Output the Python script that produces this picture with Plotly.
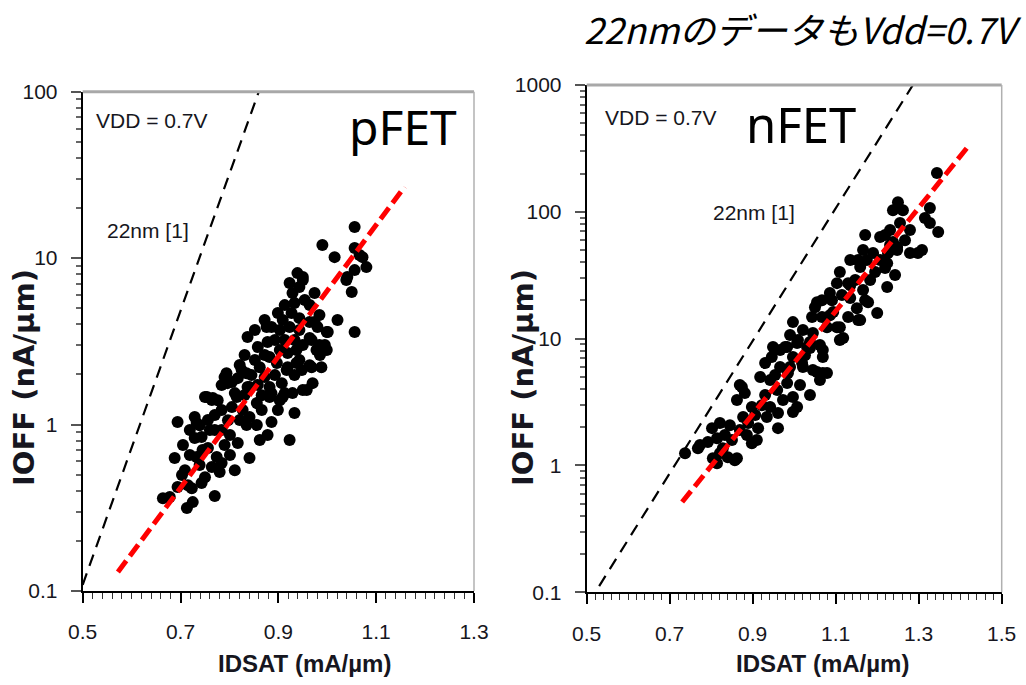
import plotly.graph_objects as go

# ---------------- data ----------------
# pFET: IDSAT (mA/um) vs IOFF (nA/um)
p_idsat = [0.664, 0.678, 0.713, 0.725, 0.770, 0.694, 0.723, 0.703, 0.743, 0.750,
           0.709, 0.688, 0.733, 0.764, 0.780, 0.811, 0.841, 0.705, 0.729, 0.743,
           0.756, 0.774, 0.784, 0.817, 0.694, 0.729, 0.733, 0.756, 0.760, 0.784,
           0.801, 0.784, 0.750, 0.764, 0.805, 0.815, 0.827, 0.841, 0.835, 0.856,
           0.862, 0.878, 0.886, 0.856, 0.866, 0.882, 0.899, 0.933, 0.923, 0.790,
           0.794, 0.784, 0.817, 0.811, 0.841, 0.835, 0.862, 0.872, 0.882, 0.907,
           0.913, 0.929, 0.917, 0.937, 0.958, 0.970, 0.968, 0.988, 0.948, 0.754,
           0.766, 0.796, 0.825, 0.845, 0.837, 0.886, 0.909, 0.950, 0.964, 0.943,
           0.919, 0.897, 0.882, 0.837, 0.858, 0.878, 0.903, 0.919, 0.937, 0.950,
           0.968, 0.978, 0.999, 1.001, 0.980, 0.964, 0.943, 0.923, 0.927, 0.899,
           0.886, 0.933, 0.929, 0.923, 0.939, 0.950, 0.974, 0.964, 1.021, 1.056,
           1.015, 1.050, 1.039, 1.056, 1.080, 1.072, 1.056, 0.990, 1.056, 1.066,
           0.974, 0.999, 0.995, 0.964, 0.876, 1.041, 0.950, 0.943, 0.913, 0.903,
           0.872, 0.852, 0.831, 0.821, 0.770, 0.790, 0.739, 0.719, 0.801, 0.893,
           0.933, 0.985, 0.852, 0.872, 0.909, 0.943, 0.984, 0.913, 0.954, 0.893,
           0.933, 0.984, 0.831, 0.821, 0.805, 0.858, 0.903, 0.866, 0.776, 0.797,
           0.770, 0.739, 0.719, 0.745, 0.715]
p_ioff = [0.361, 0.367, 0.315, 0.342, 0.372, 0.421, 0.415, 0.497, 0.445, 0.483,
          0.532, 0.629, 0.638, 0.556, 0.518, 0.532, 0.629, 0.753, 0.830, 0.841,
          0.723, 0.638, 0.587, 0.774, 1.035, 1.109, 1.021, 1.064, 0.927, 0.927,
          0.865, 1.222, 1.462, 1.403, 1.273, 1.462, 1.222, 1.109, 0.993, 0.993,
          0.807, 0.865, 1.035, 1.346, 1.222, 1.462, 1.222, 1.172, 0.807, 1.928,
          2.037, 1.726, 1.901, 1.545, 1.679, 2.037, 2.213, 1.928, 1.679, 1.774,
          1.545, 1.545, 2.124, 2.344, 1.611, 1.774, 2.213, 2.213, 2.124, 1.462,
          1.442, 1.774, 2.124, 1.982, 1.679, 1.545, 1.462, 1.611, 2.275, 2.443,
          2.213, 2.344, 2.547, 3.357, 2.924, 3.133, 2.805, 2.692, 2.805, 3.006,
          3.221, 2.805, 2.805, 3.597, 3.855, 4.130, 3.698, 3.855, 4.677, 4.677,
          3.855, 5.370, 6.166, 7.079, 8.128, 7.379, 6.166, 5.224, 4.246, 3.597,
          10.14, 6.252, 7.379, 8.472, 8.831, 10.14, 15.38, 11.99, 11.51, 10.45,
          4.130, 3.597, 3.006, 3.311, 3.855, 7.691, 7.691, 6.699, 3.221, 3.698,
          2.618, 2.443, 1.503, 1.064, 1.140, 0.753, 0.571, 0.656, 0.656, 1.982,
          1.982, 2.618, 3.70, 4.25, 4.25, 4.36, 4.55, 5.22, 5.60, 3.22,
          3.22, 3.01, 2.62, 2.28, 1.80, 1.73, 1.40, 1.50, 1.40, 1.06,
          0.927, 0.99, 0.927, 0.703, 0.432]

# nFET: IDSAT (mA/um) vs IOFF (nA/um)
n_idsat = [0.737, 0.768, 0.802, 0.821, 0.792, 0.814, 0.828, 0.840, 0.821, 0.862,
           0.804, 0.850, 0.814, 0.857, 0.862, 0.874, 0.881, 0.898, 0.877, 0.889,
           0.913, 0.886, 0.910, 0.898, 0.869, 0.918, 0.930, 0.946, 0.966, 0.978,
           1.007, 1.031, 1.069, 0.942, 0.959, 0.983, 0.973, 0.997, 1.007, 0.942,
           0.961, 0.961, 0.934, 0.922, 1.021, 1.045, 1.069, 0.985, 0.869, 0.997,
           1.062, 0.966, 0.997, 0.997, 1.021, 1.009, 1.038, 1.062, 1.043, 1.050,
           1.067, 1.086, 1.094, 1.110, 1.118, 1.079, 1.055, 1.079, 1.069, 1.130,
           1.159, 1.151, 1.178, 1.200, 1.135, 1.115, 1.110, 1.130, 1.147, 1.159,
           1.175, 1.190, 1.166, 1.195, 1.224, 1.243, 1.226, 1.248, 1.279, 1.298,
           1.103, 1.091, 1.344, 1.250, 1.238, 1.262, 1.327, 1.315, 1.327, 1.347,
           1.255, 1.279, 1.231, 1.219, 1.171, 1.238, 1.248, 1.308, 1.166, 1.154,
           1.224, 1.207, 1.219, 1.135, 1.171, 1.154, 1.055, 1.067, 1.103, 1.110,
           0.983, 1.045, 1.038, 1.019, 0.949, 0.990, 0.954, 1.014, 1.038, 1.026,
           0.990, 1.086, 1.135, 1.183, 1.207, 1.231, 1.267, 0.906, 0.930, 0.845,
           0.833, 0.773]
n_ioff = [1.25, 1.37, 1.97, 2.16, 1.53, 1.64, 1.37, 1.16, 1.25, 1.14,
          1.14, 1.59, 1.04, 1.10, 3.28, 4.15, 3.72, 2.89, 2.41, 2.16,
          1.97, 1.74, 1.59, 1.50, 1.90, 4.98, 6.42, 7.16, 8.13, 8.58,
          9.23, 8.58, 8.13, 4.71, 3.93, 4.46, 3.28, 3.46, 2.89, 2.89,
          2.59, 1.97, 2.41, 2.99, 5.97, 5.65, 5.35, 5.35, 4.31, 2.64,
          4.71, 5.97, 7.16, 13.5, 11.7, 9.75, 9.40, 8.90, 14.8, 17.7,
          20.1, 22.9, 16.2, 12.3, 10.1, 12.3, 5.45, 5.35, 7.16, 14.8,
          14.0, 17.4, 19.4, 15.9, 20.9, 22.1, 33.5, 27.4, 29.0, 36.7,
          41.7, 47.3, 24.2, 33.5, 25.5, 31.7, 47.3, 52.7, 47.3, 47.3,
          27.4, 20.1, 202, 119, 103, 103, 107, 89.3, 81.5, 69.2,
          81.5, 71.8, 71.8, 65.6, 65.6, 57.8, 50.0, 50.0, 50.0, 41.7,
          39.4, 63.2, 36.0, 41.7, 20.1, 14.0, 19.4, 14.8, 12.3, 9.75,
          8.58, 11.1, 8.43, 6.42, 8.58, 5.97, 5.16, 4.31, 3.59, 7.41,
          10.7, 15.3, 26.4, 29.0, 41.7, 54.7, 59.8, 2.50, 3.59, 2.08,
          1.74, 1.45]

# reference (22nm [1]) and fitted trend lines: endpoints in data units
p_ref_x = [0.50, 0.86]
p_ref_y = [0.109, 100]
p_fit_x = [0.572, 1.158]
p_fit_y = [0.13, 26.8]
n_ref_x = [0.53, 1.286]
n_ref_y = [0.112, 1000]
n_fit_x = [0.73, 1.424]
n_fit_y = [0.515, 343]

p_xticks = [0.5, 0.7, 0.9, 1.1, 1.3]
n_xticks = [0.5, 0.7, 0.9, 1.1, 1.3, 1.5]
p_yticks = [0.1, 1, 10, 100]
n_yticks = [0.1, 1, 10, 100, 1000]

title_text = "22nmのデータもVdd=0.7V"

# ---------------- figure ----------------
W, H = 1026, 685
SANS = "Liberation Sans, Arial, sans-serif"
INK = "#161620"


def px(x):
    return x / W


def py(y):
    return 1 - y / H


def minor_log(lo, hi):
    vals = []
    e = lo
    while e < hi:
        for k in range(2, 10):
            vals.append(k * 10 ** e)
        e += 1
    return vals


fig = go.Figure()

for xs, ys, ax, ay in [(p_idsat, p_ioff, "x", "y"), (n_idsat, n_ioff, "x2", "y2")]:
    fig.add_trace(go.Scatter(x=xs, y=ys, xaxis=ax, yaxis=ay, mode="markers",
                             marker=dict(size=12, color="black"),
                             showlegend=False, hoverinfo="skip"))

for xs, ys, ax, ay in [(p_ref_x, p_ref_y, "x", "y"), (n_ref_x, n_ref_y, "x2", "y2")]:
    fig.add_trace(go.Scatter(x=xs, y=ys, xaxis=ax, yaxis=ay, mode="lines",
                             line=dict(color="black", width=2.2, dash="12px,8px"),
                             showlegend=False, hoverinfo="skip"))

for xs, ys, ax, ay in [(p_fit_x, p_fit_y, "x", "y"), (n_fit_x, n_fit_y, "x2", "y2")]:
    fig.add_trace(go.Scatter(x=xs, y=ys, xaxis=ax, yaxis=ay, mode="lines",
                             line=dict(color="#ff0000", width=5, dash="14px,6px"),
                             showlegend=False, hoverinfo="skip"))

xax_common = dict(showgrid=False, zeroline=False, showline=True, linecolor="black",
                  linewidth=2, ticks="outside", ticklen=10, tickwidth=1.5,
                  tickcolor="black", ticklabelstandoff=11, automargin=False,
                  tickfont=dict(family=SANS, size=21, color=INK),
                  minor=dict(ticks="outside", ticklen=6, tickwidth=1, tickcolor="#333",
                             dtick=0.02))
yax_common = dict(type="log", showgrid=False, zeroline=False, showline=True,
                  linecolor="black", linewidth=2, ticks="outside", ticklen=10,
                  tickwidth=1.5, tickcolor="#555", ticklabelstandoff=9,
                  automargin=False,
                  tickfont=dict(family=SANS, size=21, color=INK))

fig.update_layout(
    width=W, height=H, autosize=False,
    margin=dict(l=0, r=0, t=0, b=0, pad=0, autoexpand=False),
    paper_bgcolor="white", plot_bgcolor="white",
    xaxis=dict(xax_common, domain=[px(82.7), px(474)], range=[0.5, 1.3],
               tickvals=p_xticks, ticktext=[f"{v:.1f}" for v in p_xticks],
               anchor="y"),
    yaxis=dict(yax_common, domain=[py(591), py(91.7)], range=[-1, 2],
               tickvals=p_yticks, ticktext=[f"{v:g}" for v in p_yticks],
               minor=dict(ticks="outside", ticklen=5, tickcolor="#666",
                          tickvals=minor_log(-1, 2)),
               anchor="x"),
    xaxis2=dict(xax_common, domain=[px(586.7), px(1001.7)], range=[0.5, 1.5],
                tickvals=n_xticks, ticktext=[f"{v:.1f}" for v in n_xticks],
                anchor="y2"),
    yaxis2=dict(yax_common, domain=[py(592.3), py(85)], range=[-1, 3],
                tickvals=n_yticks, ticktext=[f"{v:g}" for v in n_yticks],
                minor=dict(ticks="outside", ticklen=5, tickcolor="#666",
                           tickvals=minor_log(-1, 3)),
                anchor="x2"),
)

# gray top / right frame edges
for xr, yr in [("x domain", "y domain"), ("x2 domain", "y2 domain")]:
    fig.add_shape(type="line", xref=xr, yref=yr, x0=0, x1=1, y0=1, y1=1,
                  line=dict(color="#a8a8a8", width=3))
    fig.add_shape(type="line", xref=xr, yref=yr, x0=1, x1=1, y0=0, y1=1,
                  line=dict(color="#b0b0b0", width=1.5))

BOLD = dict(family=SANS, size=24, color=INK)
LBL = dict(family=SANS, size=21, color=INK)
YT = dict(family="DejaVu Sans", size=29, color=INK)
ann = [
    # axis titles
    dict(text="<b>IDSAT (mA/µm)</b>", x=px(304), y=py(663), font=BOLD),
    dict(text="<b>IDSAT (mA/µm)</b>", x=px(822), y=py(663), font=BOLD),
    dict(text="<b>IOFF (nA/µm)</b>", x=px(24), y=py(378), textangle=-90, font=YT),
    dict(text="<b>IOFF (nA/µm)</b>", x=px(523), y=py(378), textangle=-90, font=YT),
    # in-plot labels
    dict(text="VDD = 0.7V", x=px(151), y=py(121), font=LBL),
    dict(text="22nm [1]", x=px(148), y=py(231), font=LBL),
    dict(text="VDD = 0.7V", x=px(660), y=py(117), font=LBL),
    dict(text="22nm [1]", x=px(754), y=py(213), font=LBL),
    dict(text="pFET", x=px(403), y=py(127), font=dict(family="Noto Sans", size=48, color="black")),
    dict(text="nFET", x=px(801), y=py(124), font=dict(family="Noto Sans", size=49, color="black")),
    # top note
    dict(text=f"<i>{title_text}</i>", x=px(1024), y=py(28), xanchor="right",
         font=dict(family="Noto Sans CJK JP", size=36, color="black")),
]
for a in ann:
    a.setdefault("xanchor", "center")
    fig.add_annotation(xref="paper", yref="paper", showarrow=False, yanchor="middle", **a)

fig.write_html("out.html")
